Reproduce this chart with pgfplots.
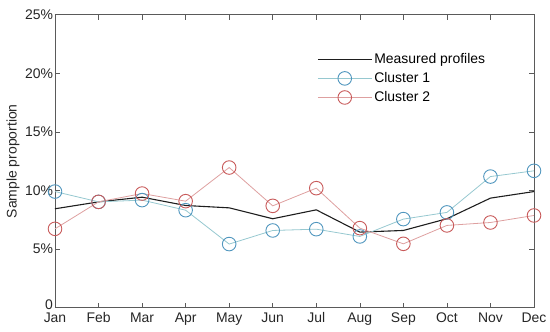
\documentclass[border=0pt]{standalone}
\usepackage{pgfplots}
\pgfplotsset{compat=1.18}
\usepackage{fontspec}
\setmainfont{Liberation Sans}
\definecolor{axgray}{RGB}{90,90,90}
\definecolor{c1m}{RGB}{80,150,190}
\definecolor{c1l}{RGB}{150,200,208}
\definecolor{c2m}{RGB}{200,90,90}
\definecolor{c2l}{RGB}{222,160,160}
\definecolor{blk}{RGB}{30,30,30}
\begin{document}
\begin{tikzpicture}
\begin{axis}[
  scale only axis,
  width=479bp, height=293bp,
  xmin=0, xmax=11, ymin=0, ymax=25,
  xtick={0,...,11},
  xticklabels={Jan,Feb,Mar,Apr,May,Jun,Jul,Aug,Sep,Oct,Nov,Dec},
  ytick={5,10,15,20,25},
  yticklabels={5\%,10\%,15\%,20\%,25\%},
  extra y ticks={0},
  extra y tick labels={0},
  extra y tick style={yticklabel style={yshift=3bp}},
  tick align=inside,
  major tick length=5bp,
  axis line style={axgray, line width=0.8bp},
  every tick/.style={axgray, line width=0.6bp},
  tick label style={font=\fontsize{14}{16}\selectfont, text=black!85},
  yticklabel style={xshift=1.5bp},
  xticklabel style={yshift=-1.5bp},
  ylabel={Sample proportion},
  every axis y label/.style={at={(axis description cs:0,0.5)}, xshift=-42bp, rotate=90, anchor=center,
    font=\fontsize{14}{16}\selectfont, text=black!85},
  legend style={draw=none, fill=none, at={(0.547,0.875)}, anchor=north west,
    font=\fontsize{14}{16}\selectfont, row sep=3.5bp, inner sep=0pt},
  legend cell align=left,
  legend image code/.code={\draw[#1, mark repeat=2, mark phase=2] plot coordinates {(0bp,0bp) (27bp,0bp) (54bp,0bp)};},
  clip=false,
]
\addplot[blk, line width=1.1bp, mark=none] coordinates {
(0,8.44) (1,9.03) (2,9.43) (3,8.72) (4,8.52) (5,7.59) (6,8.35) (7,6.45) (8,6.59) (9,7.59) (10,9.35) (11,9.91)};
\addlegendentry{Measured profiles}
\addplot[c1l, line width=0.8bp, mark=o, mark size=6.8bp, mark options={c1m, line width=0.9bp}] coordinates {
(0,9.91) (1,9.03) (2,9.18) (3,8.32) (4,5.43) (5,6.59) (6,6.70) (7,6.08) (8,7.56) (9,8.13) (10,11.19) (11,11.68)};
\addlegendentry{Cluster 1}
\addplot[c2l, line width=0.8bp, mark=o, mark size=6.8bp, mark options={c2m, line width=0.9bp}] coordinates {
(0,6.73) (1,9.03) (2,9.74) (3,9.09) (4,11.96) (5,8.69) (6,10.2) (7,6.79) (8,5.45) (9,7.02) (10,7.27) (11,7.87)};
\addlegendentry{Cluster 2}
\end{axis}
\path (current axis.south west) ++(-55bp,-24bp) coordinate (bbA);
\path (current axis.north east) ++(16bp,14.7bp) coordinate (bbB);
\pgfresetboundingbox
\useasboundingbox (bbA) rectangle (bbB);
\end{tikzpicture}
\end{document}
